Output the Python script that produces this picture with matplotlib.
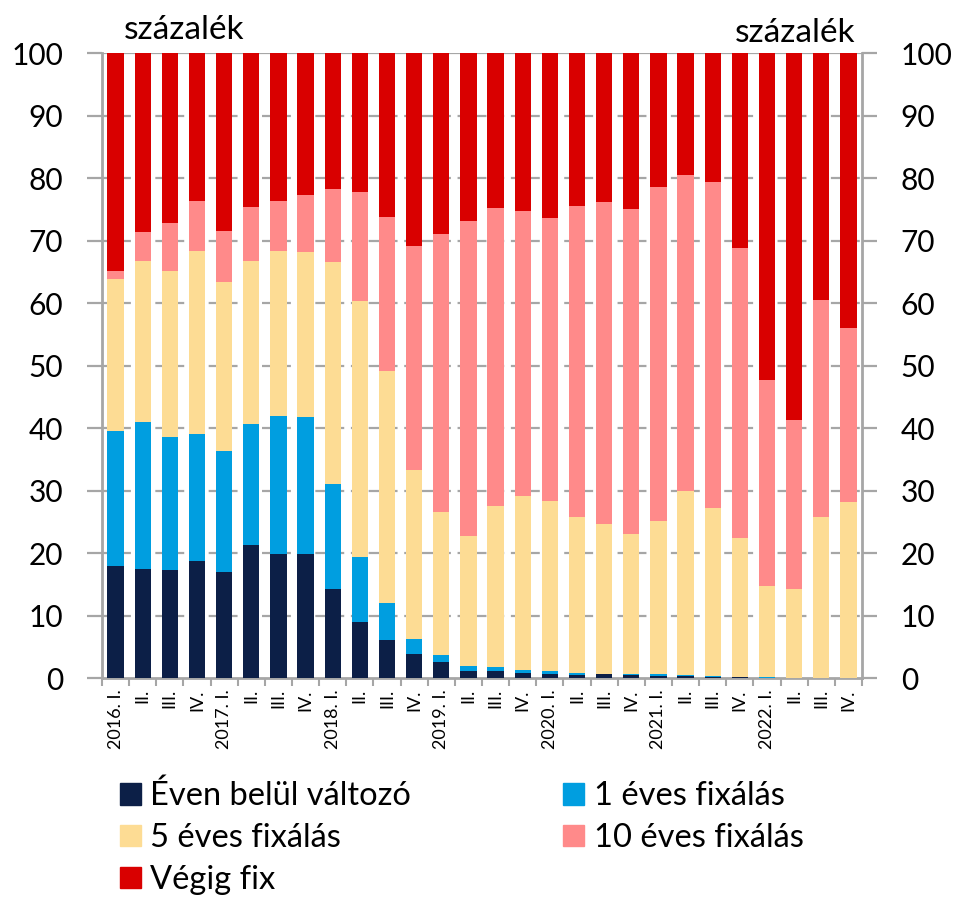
import matplotlib
matplotlib.use("Agg")
import numpy as np
from matplotlib import pyplot as plt
from matplotlib.patches import Patch

plt.rcParams['font.family'] = ['Lato', 'DejaVu Sans']

quarters = ["2016. I.", "II.", "III.", "IV.",
            "2017. I.", "II.", "III.", "IV.",
            "2018. I.", "II.", "III.", "IV.",
            "2019. I.", "II.", "III.", "IV.",
            "2020. I.", "II.", "III.", "IV.",
            "2021. I.", "II.", "III.", "IV.",
            "2022. I.", "II.", "III.", "IV."]

# cumulative tops
top_valtozo = [17.9, 17.4, 17.3, 18.7, 17.0, 21.3, 19.9, 19.9, 14.2, 9.0, 6.1, 3.8,
               2.5, 1.2, 1.1, 0.8, 0.7, 0.5, 0.6, 0.5, 0.4, 0.3, 0.2, 0.1, 0.05, 0.0, 0.0, 0.0]
top_1ev = [39.6, 41.0, 38.5, 39.1, 36.3, 40.6, 42.0, 41.8, 31.1, 19.3, 12.0, 6.3,
           3.7, 2.0, 1.8, 1.3, 1.1, 0.8, 0.7, 0.7, 0.6, 0.5, 0.3, 0.2, 0.2, 0.0, 0.0, 0.0]
top_5ev = [63.8, 66.8, 65.2, 68.4, 63.4, 66.8, 68.3, 68.2, 66.6, 60.4, 49.1, 33.3,
           26.5, 22.7, 27.5, 29.2, 28.4, 25.7, 24.7, 23.1, 25.2, 29.9, 27.2, 22.4, 14.8, 14.2, 25.8, 28.1]
top_10ev = [65.2, 71.4, 72.8, 76.3, 71.5, 75.3, 76.4, 77.3, 78.3, 77.7, 73.7, 69.1,
            71.1, 73.1, 75.2, 74.7, 73.6, 75.6, 76.1, 75.1, 78.5, 80.5, 79.3, 68.8, 47.7, 41.3, 60.5, 56.0]

labels = ["Éven belül változó", "1 éves fixálás", "5 éves fixálás", "10 éves fixálás", "Végig fix"]
colors = ["#0c1f47", "#009ee0", "#fddc94", "#ff8a8a", "#d90000"]

tops = np.array([top_valtozo, top_1ev, top_5ev, top_10ev, [100.0] * len(quarters)])
bottoms = np.vstack([np.zeros(len(quarters)), tops[:-1]])

fig = plt.figure(figsize=(9.57, 8.99), dpi=100)
ax = fig.add_axes([0.1066, 0.2458, 0.7941, 0.6952])
x = np.arange(len(quarters))
for i in range(5):
    ax.bar(x, tops[i] - bottoms[i], bottom=bottoms[i], width=0.6, color=colors[i], zorder=3)

grey = "#a6a6a6"
ax.set_xlim(-0.5, len(quarters) - 0.5)
ax.set_ylim(0, 100)
ax.set_yticks(range(0, 101, 10))
for y in range(10, 100, 10):
    ax.axhline(y, color=grey, lw=1.6, ls=(0, (5, 3)), zorder=1)
ax.axhline(100, color=grey, lw=1.6, zorder=1)

for side in ["left", "right", "bottom"]:
    ax.spines[side].set_color(grey)
    ax.spines[side].set_linewidth(2)
ax.spines["top"].set_visible(False)

ax.set_xticks(x)
ax.set_xticklabels(quarters, rotation=90, fontsize=13)
ax.tick_params(axis="x", length=0, pad=8)
ax.set_xticks(np.arange(-0.5, len(quarters), 1), minor=True)
ax.tick_params(axis="x", which="minor", length=6, width=1.5, color=grey)

ax.tick_params(axis="y", labelsize=21.5, length=11, width=1.6, color=grey, pad=17,
               left=True, right=True, labelleft=True, labelright=True)

fig.text(0.192, 0.9566, "százalék", fontsize=24, ha="center", va="baseline")
fig.text(0.831, 0.9533, "százalék", fontsize=24, ha="center", va="baseline")

handles = [Patch(color=c) for c in colors]
order = [0, 2, 4, 1, 3]
fig.legend([handles[i] for i in order], [labels[i] for i in order], ncol=2,
           loc="upper left", bbox_to_anchor=(0.125, 0.1315), frameon=False,
           fontsize=23.5, handlelength=0.64, handleheight=0.64, handletextpad=0.3,
           labelspacing=0.36, columnspacing=4.65, borderaxespad=0, borderpad=0)

fig.savefig("out.png", dpi=100)
